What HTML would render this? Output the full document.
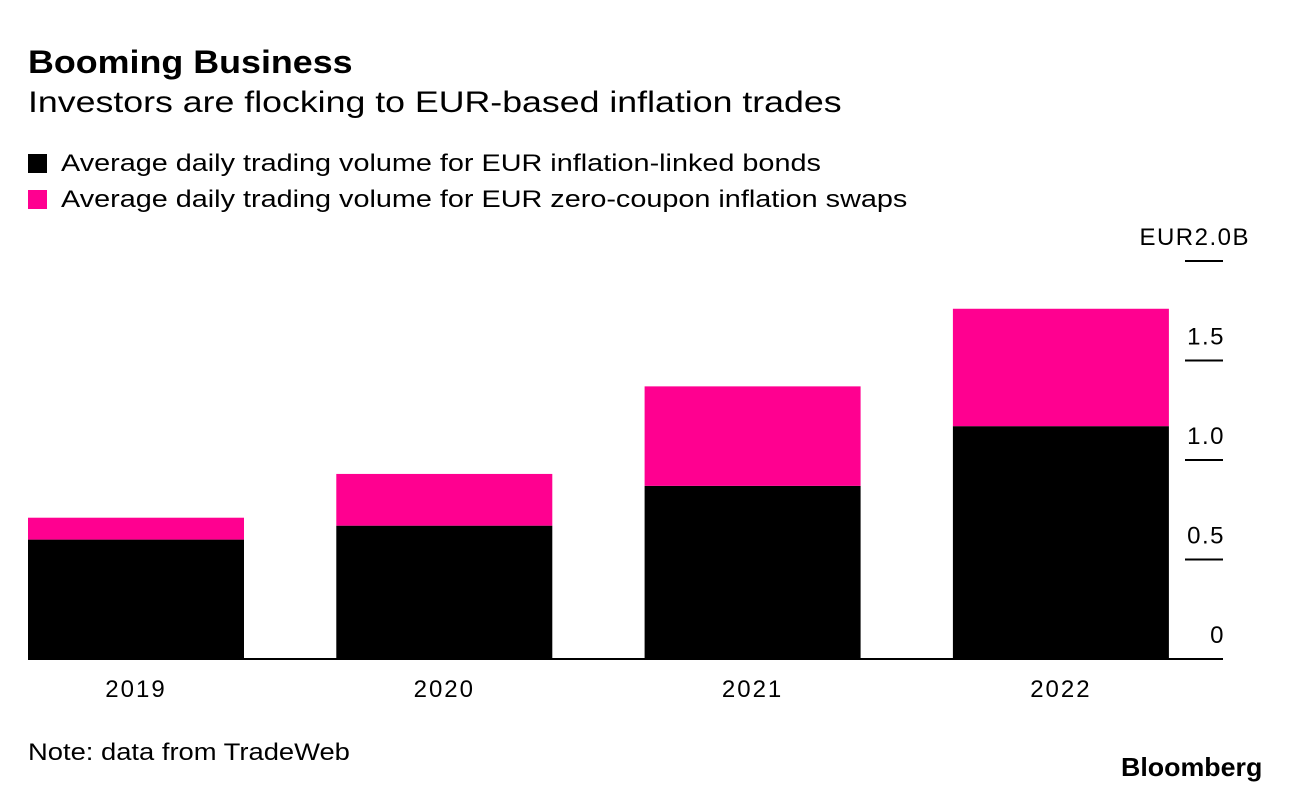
<!DOCTYPE html>
<html><head><meta charset="utf-8"><style>
body{margin:0;background:#fff;font-family:"Liberation Sans",sans-serif;}
#c{position:relative;width:1289px;height:792px;overflow:hidden;}
.t{position:absolute;white-space:nowrap;color:#000;transform-origin:left top;}
</style></head><body><div id="c">
<div class="t" style="left:28px;top:44px;font-size:32px;font-weight:bold;transform:scaleX(1.12);">Booming Business</div>
<div class="t" style="left:28px;top:86px;font-size:30px;transform:scaleX(1.19);">Investors are flocking to EUR-based inflation trades</div>
<div class="t" style="left:28px;top:150px;font-size:24px;"><span style="display:inline-block;width:19px;height:19px;background:#000;margin-right:14px;vertical-align:-2px"></span><span style="display:inline-block;transform:scaleX(1.2);transform-origin:left">Average daily trading volume for EUR inflation-linked bonds</span></div>
<div class="t" style="left:28px;top:186px;font-size:24px;"><span style="display:inline-block;width:19px;height:19px;background:#ff0090;margin-right:14px;vertical-align:-2px"></span><span style="display:inline-block;transform:scaleX(1.2);transform-origin:left">Average daily trading volume for EUR zero-coupon inflation swaps</span></div>
<svg id="s" width="1289" height="792" style="position:absolute;left:0;top:0"></svg>
<div class="t" style="left:28px;top:739px;font-size:24px;transform:scaleX(1.14);">Note: data from TradeWeb</div>
<div class="t" style="left:1121px;top:752px;font-size:26px;font-weight:bold;letter-spacing:0px;transform:scaleX(1.03);">Bloomberg</div>
</div>
<script>
const categories=["2019","2020","2021","2022"];
const bonds=[0.60,0.67,0.87,1.17];
const swaps=[0.11,0.26,0.50,0.59];
const ticks=[0,0.5,1.0,1.5,2.0];
const tickLabels=["0","0.5","1.0","1.5","EUR2.0B"];
const NS="http://www.w3.org/2000/svg";
const svg=document.getElementById('s');
const y=v=>659-v*199;
const x0=28,step=308.3,bw=216;
function add(tag,attrs){const e=document.createElementNS(NS,tag);for(const k in attrs)e.setAttribute(k,attrs[k]);svg.appendChild(e);return e;}
categories.forEach((c,i)=>{
 const x=x0+i*step;
 let r=add('rect',{x:x,y:y(bonds[i]),width:bw,height:y(0)-y(bonds[i]),fill:'#000'});
 
 
 r=add('rect',{x:x,y:y(bonds[i]+swaps[i]),width:bw,height:y(bonds[i])-y(bonds[i]+swaps[i]),fill:'#ff0090'});
 
 
 const t=add('text',{x:x+bw/2,y:697,'text-anchor':'middle','font-size':24,'letter-spacing':2,'font-family':'Liberation Sans, sans-serif'});
 t.textContent=c;
 
 
});
ticks.forEach((v,i)=>{
 if(v>0){const l=add('line',{x1:1185,x2:1223,y1:y(v),y2:y(v),stroke:'#000','stroke-width':2});
 
 }
 const last=i===ticks.length-1;
 const t=add('text',{x:last?1250:1225,y:y(v)-16,'text-anchor':'end','font-size':24,'letter-spacing':1.5,'font-family':'Liberation Sans, sans-serif'});
 t.textContent=tickLabels[i];
 
 
});
const b=add('line',{x1:28,x2:1223,y1:y(0),y2:y(0),stroke:'#000','stroke-width':2});


</script></body></html>
